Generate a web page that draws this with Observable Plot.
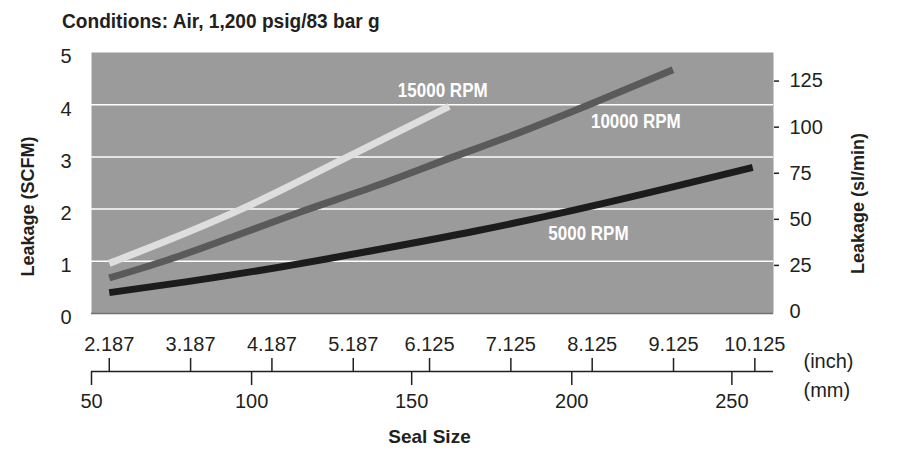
<!DOCTYPE html>
<html><head><meta charset="utf-8">
<script src="https://cdn.jsdelivr.net/npm/d3@7"></script>
<script src="https://cdn.jsdelivr.net/npm/@observablehq/plot@0.6"></script>
<style>
body{margin:0;background:#fff;}
#title{height:40px;box-sizing:border-box;padding:10px 0 0 62px;font:bold 20px 'Liberation Sans',Arial,sans-serif;line-height:22px;color:#231f20;white-space:nowrap;}
#title span{display:inline-block;transform:scaleX(0.955);transform-origin:left;}
</style></head><body>
<div id="title"><span id="tt"></span></div>
<div id="chart"></div>
<script>
const titleText = "Conditions: Air, 1,200 psig/83 bar g";
const xLabel = "Seal Size";
const yLeftLabel = "Leakage (SCFM)";
const yRightLabel = "Leakage (sl/min)";
const unitLabels = ["(inch)", "(mm)"];

const MM_PER_INCH = 25.4;
const SLM_PER_SCFM = 28.317;

// tick labels
const inchLabels = ["2.187","3.187","4.187","5.187","6.125","7.125","8.125","9.125","10.125"];
const mmTicks = [50, 100, 150, 200, 250];
const leftTicks = [0, 1, 2, 3, 4, 5];
const rightTicks = [25, 50, 75, 100, 125];
const gridValues = [1, 2, 3, 4];

// series (seal size in mm, leakage in SCFM)
const size15000 = [55.55, 75, 96.8, 130, 161.7];
const leak15000 = [0.96, 1.43, 2.0, 3.0, 3.97];
const size10000 = [55.55, 74, 95, 115, 140, 163, 180, 205, 231.6];
const leak10000 = [0.68, 1.03, 1.49, 1.94, 2.47, 3.0, 3.38, 3.99, 4.67];
const size5000 = [55.55, 80, 110, 140, 170, 200, 230, 256.5];
const leak5000 = [0.40, 0.61, 0.90, 1.23, 1.58, 1.97, 2.40, 2.80];

const seriesNames = ["15000 RPM", "10000 RPM", "5000 RPM"];
const seriesColors = ["#dedede", "#5a5a5a", "#1c1c1c"];
const labelSize = [159.7, 220.0, 205.2];
const labelLeak = [4.27, 3.68, 1.54];

document.getElementById("tt").textContent = titleText;

const rows = (xs, ys) => xs.map((x, i) => ({mm: x, v: ys[i]}));
const series = [rows(size15000, leak15000), rows(size10000, leak10000), rows(size5000, leak5000)];
const labels = seriesNames.map((n, i) => ({name: n, mm: labelSize[i], v: labelLeak[i]}));
const inchMap = new Map(inchLabels.map(s => [+s * MM_PER_INCH, s]));
const ink = "#231f20";

const chart = Plot.plot({
  width: 898,
  height: 431,
  marginTop: 12,
  marginBottom: 158,
  marginLeft: 91,
  marginRight: 125,
  style: {fontFamily: "'Liberation Sans', Arial, sans-serif", color: ink, background: "white", overflow: "visible"},
  x: {type: "linear", domain: [50, 263]},
  y: {type: "linear", domain: [0, 5]},
  marks: [
    Plot.frame({fill: "#9b9b9b", stroke: null}),
    Plot.ruleY(gridValues, {stroke: "white", strokeWidth: 1.5}),
    Plot.ruleY([0], {stroke: "#6f6f6f", strokeWidth: 1.5}),
    ...series.map((d, i) => Plot.line(d, {x: "mm", y: "v", stroke: seriesColors[i], strokeWidth: 7, curve: "monotone-x", strokeLinecap: "butt"})),
    Plot.text(labels, {x: "mm", y: "v", text: "name", fill: "white", fontWeight: "bold", fontSize: 20}),
    Plot.axisY({anchor: "left", ticks: leftTicks, tickFormat: d => String(d), tickSize: 0, tickPadding: 20, fontSize: 20, dy: 4.5, label: null}),
    Plot.axisY({anchor: "right", ticks: rightTicks.map(v => v / SLM_PER_SCFM), tickFormat: d => String(Math.round(d * SLM_PER_SCFM)),
      tickSize: 5, tickPadding: 11, fontSize: 20, dy: -2, strokeWidth: 1.5, label: null}),
    Plot.axisY({anchor: "right", ticks: [0], tickFormat: d => String(Math.round(d * SLM_PER_SCFM)), tickSize: 0, tickPadding: 16, fontSize: 20, dy: -2, label: null}),
    Plot.axisX({anchor: "top", ticks: [...inchMap.keys()], tickFormat: d => inchMap.get(d), tickSize: 14, tickPadding: 7, dy: 319, fontSize: 20, strokeWidth: 1.5, label: null}),
    Plot.axisX({anchor: "bottom", ticks: mmTicks, tickSize: 14, tickPadding: 8, dy: 58, fontSize: 20, strokeWidth: 1.5, label: null}),
    Plot.ruleY([0], {dy: 58, stroke: ink, strokeWidth: 1.5}),
    Plot.text([unitLabels[0]], {frameAnchor: "bottom-right", textAnchor: "start", lineAnchor: "middle", dx: 30, dy: 48, fontSize: 20}),
    Plot.text([unitLabels[1]], {frameAnchor: "bottom-right", textAnchor: "start", lineAnchor: "middle", dx: 30, dy: 77, fontSize: 20}),
    Plot.text([xLabel], {frameAnchor: "bottom", textAnchor: "middle", lineAnchor: "middle", dx: -3, dy: 123.5, fontSize: 19, fontWeight: "bold"}),
    Plot.text([yLeftLabel], {frameAnchor: "left", textAnchor: "middle", lineAnchor: "middle", rotate: -90, dx: -63, dy: 23.5, fontSize: 18, fontWeight: "bold"}),
    Plot.text([yRightLabel], {frameAnchor: "right", textAnchor: "middle", lineAnchor: "middle", rotate: -90, dx: 85, dy: 20.5, fontSize: 18, fontWeight: "bold"})
  ]
});
document.getElementById("chart").appendChild(chart);
// condense the in-plot series labels like the reference's narrow bold face
d3.select(chart).selectAll("text")
  .filter(function() { return seriesNames.includes(this.textContent); })
  .each(function() {
    const w = this.getComputedTextLength();
    this.setAttribute("textLength", (w * 0.85).toFixed(1));
    this.setAttribute("lengthAdjust", "spacingAndGlyphs");
  });
</script>
</body></html>
